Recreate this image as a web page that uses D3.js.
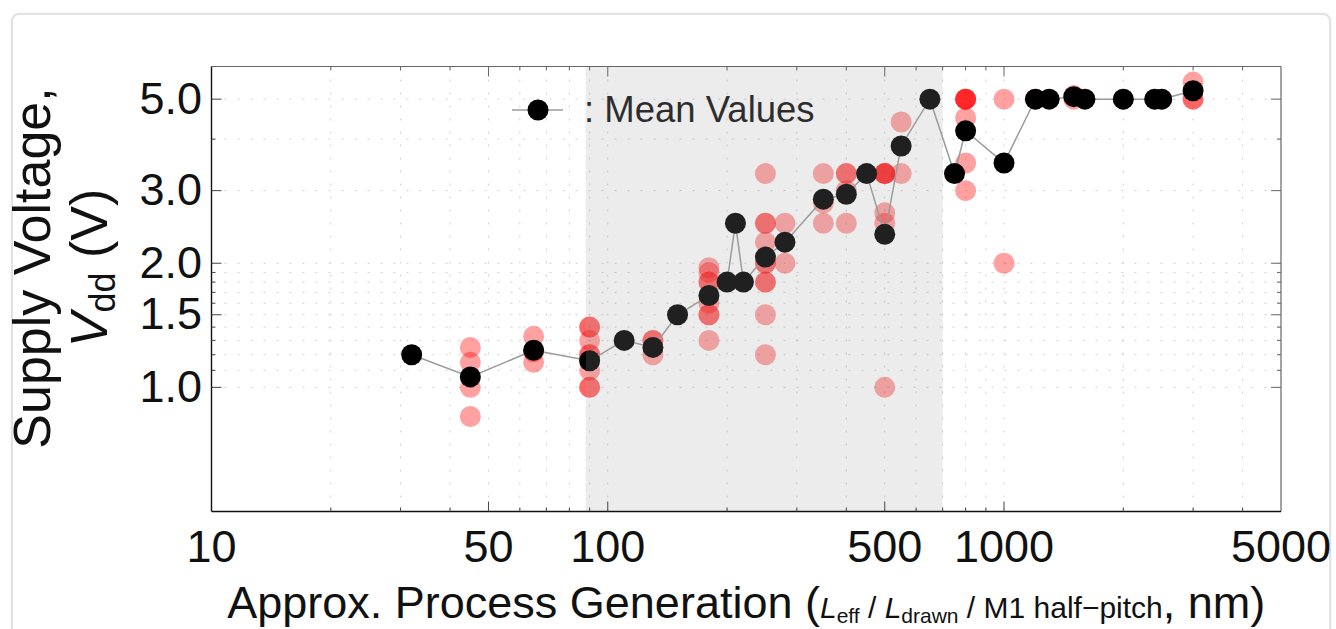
<!DOCTYPE html>
<html>
<head>
<meta charset="utf-8">
<script src="https://cdn.jsdelivr.net/npm/d3@7"></script>
<style>
  body { margin: 0; background: #fff; font-family: "Liberation Sans", Arial, sans-serif; }
  #card { position: absolute; left: 11px; top: 13px; width: 1316px; height: 650px;
          border: 2px solid #e2e2e2; border-radius: 8px; box-shadow: 0 0 3px #eee; }
  svg { position: absolute; left: 0; top: 0; }
</style>
</head>
<body>
<div id="card"></div>
<script>
// mean values (black dots)
const meanNm  = [32, 45, 65, 90, 110, 130, 150, 180, 200, 210, 220, 250, 280, 350, 400, 450, 500, 550, 650, 750, 800, 1000, 1200, 1300, 1500, 1600, 2000, 2400, 2500, 3000];
const meanVdd = [1.2, 1.06, 1.23, 1.16, 1.3, 1.25, 1.5, 1.67, 1.8, 2.5, 1.8, 2.07, 2.25, 2.86, 2.94, 3.3, 2.35, 3.85, 5.0, 3.3, 4.19, 3.5, 5.0, 5.0, 5.07, 5.0, 5.0, 5.0, 5.0, 5.24];

// individual processes (pink dots)
const ptNm  = [45, 45, 45, 45,
               65, 65, 65,
               90, 90, 90, 90, 90, 90, 90, 90,
               130, 130, 130,
               180, 180, 180, 180, 180, 180, 180, 180,
               250, 250, 250, 250, 250, 250, 250, 250, 250, 250,
               280, 280,
               350, 350, 350,
               400, 400, 400, 400,
               500, 500, 500, 500, 500, 500, 500,
               550, 550,
               800, 800, 800, 800, 800, 800, 800,
               1000, 1000,
               1200, 1500, 1500, 2000, 2500,
               3000, 3000, 3000];
const ptVdd = [1.25, 1.15, 1.0, 0.85,
               1.33, 1.22, 1.15,
               1.4, 1.4, 1.3, 1.2, 1.2, 1.1, 1.0, 1.0,
               1.3, 1.3, 1.2,
               1.95, 1.9, 1.8, 1.8, 1.6, 1.5, 1.5, 1.3,
               3.3, 2.5, 2.5, 2.25, 2.0, 2.0, 1.8, 1.8, 1.5, 1.2,
               2.5, 2.0,
               3.3, 2.8, 2.5,
               3.3, 3.3, 3.0, 2.5,
               3.3, 3.3, 3.3, 3.3, 2.65, 2.5, 1.0,
               4.4, 3.3,
               5.0, 5.0, 5.0, 5.0, 4.5, 3.5, 3.0,
               5.0, 2.0,
               5.0, 5.1, 5.0, 5.0, 5.0,
               5.5, 5.0, 5.0];

const xTickLabels = [10, 50, 100, 500, 1000, 5000];
const xMinor = [20, 30, 40, 60, 70, 80, 90, 200, 300, 400, 600, 700, 800, 900, 2000, 3000, 4000];
const yTickLabels = [1.0, 1.5, 2.0, 3.0, 5.0];
const yMinor = [1.1, 1.2, 1.3, 1.4, 1.6, 1.7, 1.8, 1.9, 4.0];
const shade = [88, 700];

const W = 1336, H = 629;
const L = 211.5, R = 1281, T = 66.5, B = 511.5;

const svg = d3.select("body").append("svg").attr("width", W).attr("height", H);

const x = d3.scaleLog().domain([10, 5000]).range([L, R]);
const y = d3.scaleLog().domain([0.5, 6]).range([B, T]);

// grid
const g = svg.append("g");
const xGrid = xMinor.concat([50, 100, 500, 1000]);
const yGrid = yMinor.concat([1.0, 1.5, 2.0, 3.0, 5.0]);
g.selectAll(".xg").data(xGrid).enter().append("line")
  .attr("x1", d => x(d)).attr("x2", d => x(d)).attr("y1", T).attr("y2", B)
  .attr("stroke", "#cfcfcf").attr("stroke-width", 1).attr("stroke-dasharray", "2,11");
g.selectAll(".yg").data(yGrid).enter().append("line")
  .attr("y1", d => y(d)).attr("y2", d => y(d)).attr("x1", L).attr("x2", R)
  .attr("stroke", "#cfcfcf").attr("stroke-width", 1).attr("stroke-dasharray", "2,11");

// individual points
svg.append("g").selectAll("circle").data(ptNm).enter().append("circle")
  .attr("cx", d => x(d)).attr("cy", (d, i) => y(ptVdd[i])).attr("r", 10.5)
  .attr("fill", "#ff0000").attr("fill-opacity", 0.37);

// mean line
const means = meanNm.map((d, i) => [d, meanVdd[i]]);
svg.append("path").datum(means)
  .attr("d", d3.line().x(d => x(d[0])).y(d => y(d[1])))
  .attr("fill", "none").attr("stroke", "#9a9a9a").attr("stroke-width", 1.5);

svg.append("g").selectAll("circle").data(means).enter().append("circle")
  .attr("cx", d => x(d[0])).attr("cy", d => y(d[1])).attr("r", 10.5)
  .attr("fill", "#000");

// legend
const lg = svg.append("g");
lg.append("line").attr("x1", 512).attr("x2", 563).attr("y1", 110).attr("y2", 110)
  .attr("stroke", "#9a9a9a").attr("stroke-width", 1.5);
lg.append("circle").attr("cx", 538).attr("cy", 110).attr("r", 10.5).attr("fill", "#000");
lg.append("text").attr("x", 584).attr("y", 122).attr("font-size", 36.5).attr("fill", "#111")
  .text(": Mean Values");

// shaded band (drawn on top, translucent)
svg.append("rect").attr("x", x(shade[0])).attr("width", x(shade[1]) - x(shade[0]))
  .attr("y", T).attr("height", B - T)
  .attr("fill", "rgb(158,158,158)").attr("fill-opacity", 0.2);

// frame
const fr = svg.append("g");
fr.append("line").attr("x1", L).attr("x2", R).attr("y1", T).attr("y2", T).attr("stroke", "#666").attr("stroke-width", 1.2);
fr.append("line").attr("x1", R).attr("x2", R).attr("y1", T).attr("y2", B).attr("stroke", "#666").attr("stroke-width", 1.2);
fr.append("line").attr("x1", L).attr("x2", R).attr("y1", B).attr("y2", B).attr("stroke", "#111").attr("stroke-width", 1.6);
fr.append("line").attr("x1", L).attr("x2", L).attr("y1", T).attr("y2", B).attr("stroke", "#111").attr("stroke-width", 1.4);

// ticks
const xMaj = [50, 100, 500, 1000];
const xt = xMinor.map(d => [d, 4]).concat(xMaj.map(d => [d, 10]));
fr.selectAll(".xtb").data(xt).enter().append("line")
  .attr("x1", d => x(d[0])).attr("x2", d => x(d[0])).attr("y1", B).attr("y2", d => B - d[1])
  .attr("stroke", "#444").attr("stroke-width", 1);
fr.selectAll(".xtt").data(xt).enter().append("line")
  .attr("x1", d => x(d[0])).attr("x2", d => x(d[0])).attr("y1", T).attr("y2", d => T + d[1])
  .attr("stroke", "#666").attr("stroke-width", 1);
const yt = yMinor.map(d => [d, 4]).concat(yTickLabels.map(d => [d, 10]));
fr.selectAll(".ytl").data(yt).enter().append("line")
  .attr("y1", d => y(d[0])).attr("y2", d => y(d[0])).attr("x1", L).attr("x2", d => L + d[1])
  .attr("stroke", "#444").attr("stroke-width", 1);
fr.selectAll(".ytr").data(yt).enter().append("line")
  .attr("y1", d => y(d[0])).attr("y2", d => y(d[0])).attr("x1", R).attr("x2", d => R - d[1])
  .attr("stroke", "#666").attr("stroke-width", 1);

// tick labels
svg.append("g").selectAll("text").data(xTickLabels).enter().append("text")
  .attr("x", d => x(d)).attr("y", 562).attr("text-anchor", "middle")
  .attr("font-size", 45).attr("fill", "#111").text(d => d);
svg.append("g").selectAll("text").data(yTickLabels).enter().append("text")
  .attr("x", 202).attr("y", d => y(d) + 14.5).attr("text-anchor", "end")
  .attr("font-size", 45).attr("fill", "#111").text(d => d.toFixed(1));

// x title
const xt1 = svg.append("text").attr("x", (L + R) / 2).attr("y", 618).attr("text-anchor", "middle")
  .attr("font-size", 45).attr("fill", "#111");
xt1.append("tspan").text("Approx. Process Generation (");
xt1.append("tspan").attr("font-size", 30).attr("font-style", "italic").text("L");
xt1.append("tspan").attr("font-size", 21).attr("dy", 5).text("eff");
xt1.append("tspan").attr("font-size", 30).attr("dy", -5).text(" / ");
xt1.append("tspan").attr("font-size", 30).attr("font-style", "italic").text("L");
xt1.append("tspan").attr("font-size", 21).attr("dy", 5).text("drawn");
xt1.append("tspan").attr("font-size", 30).attr("dy", -5).text(" / M1 half\u2212pitch");
xt1.append("tspan").text(", nm)");

// y title
const yt1 = svg.append("g").attr("transform", "translate(50,268) rotate(-90)");
yt1.append("text").attr("text-anchor", "middle").attr("font-size", 52).attr("fill", "#111")
  .text("Supply Voltage,");
const yt2 = svg.append("g").attr("transform", "translate(107,268) rotate(-90)")
  .append("text").attr("text-anchor", "middle").attr("font-size", 52).attr("fill", "#111");
yt2.append("tspan").attr("font-style", "italic").text("V");
yt2.append("tspan").attr("font-size", 36).attr("dy", 8).text("dd");
yt2.append("tspan").attr("dy", -8).text(" (V)");
</script>
</body>
</html>
